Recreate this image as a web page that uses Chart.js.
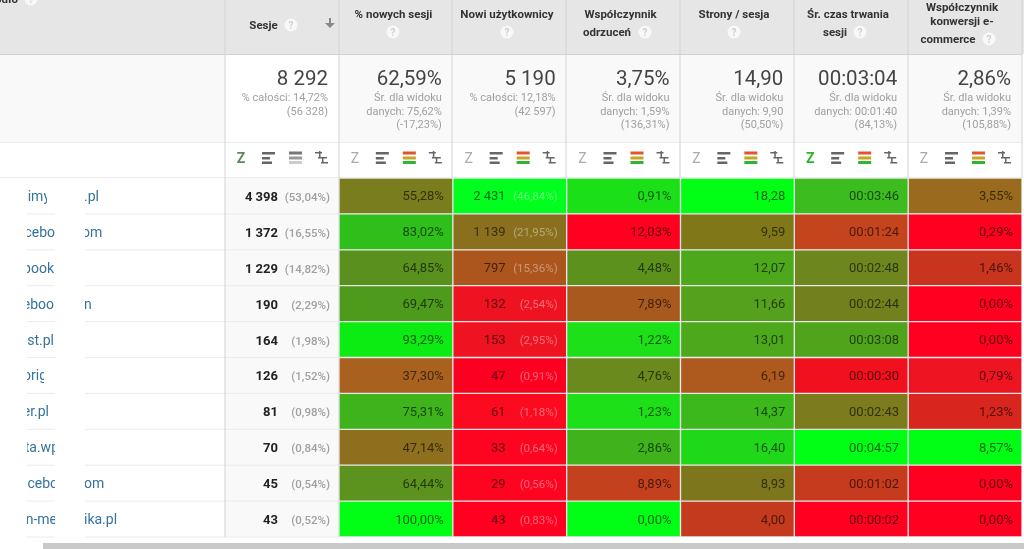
<!DOCTYPE html>
<html>
<head>
<meta charset="utf-8">
<style>
  html, body { margin: 0; padding: 0; background: #fff; overflow: hidden; }
  canvas { display: block; }
</style>
</head>
<body>
<canvas id="myChart" width="1024" height="549"></canvas>
<script src="https://cdn.jsdelivr.net/npm/chart.js@4/dist/chart.umd.min.js"></script>
<script>
// source names are partly hidden in the screenshot, only the visible bits are kept
const sourcesLeft = ["aimy", "cebo", "book", "eboo", "st.pl", "orig", "er.pl", "ta.wp", "acebo", "n-me"];
const sourcesRight = [".pl", "om", "", "n", "", "", "", "", "om", "ika.pl"];

const sessions = [4398, 1372, 1229, 190, 164, 126, 81, 70, 45, 43];
const sessionsShare = [53.04, 16.55, 14.82, 2.29, 1.98, 1.52, 0.98, 0.84, 0.54, 0.52];
const newSessionsPct = [55.28, 83.02, 64.85, 69.47, 93.29, 37.30, 75.31, 47.14, 64.44, 100.00];
const newUsers = [2431, 1139, 797, 132, 153, 47, 61, 33, 29, 43];
const newUsersShare = [46.84, 21.95, 15.36, 2.54, 2.95, 0.91, 1.18, 0.64, 0.56, 0.83];
const bounceRate = [0.91, 12.03, 4.48, 7.89, 1.22, 4.76, 1.23, 2.86, 8.89, 0.00];
const pagesPerSession = [18.28, 9.59, 12.07, 11.66, 13.01, 6.19, 14.37, 16.40, 8.93, 4.00];
const avgDuration = ["00:03:46", "00:01:24", "00:02:48", "00:02:44", "00:03:08", "00:00:30", "00:02:43", "00:04:57", "00:01:02", "00:00:02"];
const conversionRate = [3.55, 0.29, 1.46, 0.00, 0.00, 0.79, 1.23, 8.57, 0.00, 0.00];

const totalsBig = ["8 292", "62,59%", "5 190", "3,75%", "14,90", "00:03:04", "2,86%"];
const totalsSub = [
  ["% całości: 14,72%", "(56 328)"],
  ["Śr. dla widoku", "danych: 75,62%", "(-17,23%)"],
  ["% całości: 12,18%", "(42 597)"],
  ["Śr. dla widoku", "danych: 1,59%", "(136,31%)"],
  ["Śr. dla widoku", "danych: 9,90", "(50,50%)"],
  ["Śr. dla widoku", "danych: 00:01:40", "(84,13%)"],
  ["Śr. dla widoku", "danych: 1,39%", "(105,88%)"]
];

// heat colours, one list per column
const newSessionsColors = ["#7a7d1e", "#2fbf1a", "#5a911e", "#4d9a1c", "#0cec12", "#a8611e", "#3eb31c", "#8e6f1e", "#5c931e", "#00ff14"];
const newUsersColors = ["#00ff1e", "#8a701e", "#ac561e", "#ef1322", "#ef1322", "#fb0020", "#fb0a20", "#fd0420", "#fd0420", "#ff0020"];
const bounceColors = ["#1be018", "#ff0020", "#5c911c", "#a8591e", "#1ee018", "#6a8a1e", "#1ee018", "#40b31c", "#c4411e", "#00ff14"];
const pagesColors = ["#00ff14", "#807818", "#4da81c", "#55a01c", "#4ea81c", "#ae5a1e", "#3cb81c", "#20d81a", "#7e761c", "#c43a1e"];
const durationColors = ["#3cbc1e", "#c4441e", "#6e861e", "#72801e", "#4fa41c", "#f0101e", "#7c7c1e", "#00ff14", "#c63a1e", "#ff0020"];
const conversionColors = ["#9a6a1e", "#ff0020", "#c8341e", "#ff0020", "#ff0020", "#ee1422", "#d8261e", "#00ff14", "#ff0020", "#ff0020"];

const comma = (v, d) => v.toFixed(d).replace(".", ",");
const spaced = v => String(v).replace(/\B(?=(\d{3})+$)/g, " ");

const FONT = "Roboto, sans-serif";

function text(ctx, s, x, y, font, color, align) {
  ctx.font = font + " " + FONT;
  ctx.fillStyle = color;
  ctx.textAlign = align || "right";
  ctx.textBaseline = "alphabetic";
  ctx.fillText(s, x, y);
}

function help(ctx, x, y) {
  ctx.beginPath();
  ctx.arc(x, y, 6.5, 0, Math.PI * 2);
  ctx.fillStyle = "#f8f8f8";
  ctx.fill();
  text(ctx, "?", x, y + 3.5, "bold 10px", "#cfcfcf", "center");
}

function toolIcons(ctx, right, zColor, zFont, heat) {
  text(ctx, "Z", right - 98, 163, zFont, zColor, "center");
  const grey = "#666";
  ctx.fillStyle = grey;
  ctx.fillRect(right - 77, 152, 13, 2.5);
  ctx.fillRect(right - 77, 157, 8, 2.5);
  ctx.fillRect(right - 77, 161.5, 10, 2.5);
  const c = heat ? ["#e0552a", "#c9a227", "#2fb52f"] : ["#777", "#999", "#ccc"];
  [151.5, 156.5, 161].forEach((y, i) => {
    ctx.fillStyle = c[i];
    ctx.fillRect(right - 50, y, 13, 3);
  });
  ctx.fillStyle = grey;
  ctx.fillRect(right - 24, 152, 7, 1.5);
  ctx.fillRect(right - 21, 157, 9, 1.5);
  ctx.fillRect(right - 18, 162, 7, 1.5);
  ctx.fillRect(right - 20, 151, 1.5, 7);
  ctx.fillRect(right - 17, 157, 1.5, 6);
}

function sortArrow(ctx, x, y) {
  ctx.fillStyle = "#888";
  ctx.fillRect(x - 1, y - 5, 2, 9);
  ctx.beginPath();
  ctx.moveTo(x - 5, y);
  ctx.lineTo(x + 5, y);
  ctx.lineTo(x, y + 5);
  ctx.closePath();
  ctx.fill();
}

// everything around the heat cells: header, totals row, left columns
const tablePlugin = {
  id: "tablePlugin",
  beforeDraw(chart) {
    const ctx = chart.ctx;
    const x = chart.scales.x, y = chart.scales.y;
    const left = x.getPixelForValue(0);
    const sesLeft = left - 114;
    const rowH = y.getPixelForValue(1) - y.getPixelForValue(0);
    const top = y.getPixelForValue(0) - rowH / 2;

    ctx.save();
    ctx.fillStyle = "#fff";
    ctx.fillRect(0, 0, 1024, 549);
    ctx.fillStyle = "#e6e6e6";
    ctx.fillRect(0, 0, 1024, 54);
    ctx.fillStyle = "#f9f9f9";
    ctx.fillRect(0, 54, 1024, 88);
    ctx.fillRect(sesLeft, top, 114, rowH * 10);
    ctx.fillStyle = "#fff";
    ctx.fillRect(sesLeft, 55, 114, 87);
    ctx.fillRect(1022, 54, 2, 495);

    // horizontal rules
    ctx.fillStyle = "#d2d2d2";
    ctx.fillRect(0, 54, 1022, 1);
    ctx.fillStyle = "#ececec";
    ctx.fillRect(0, 142, 1022, 1);
    ctx.fillRect(0, 177, 1022, 1);
    for (let i = 1; i <= 10; i++) {
      const ly = top + rowH * i - 0.5;
      ctx.fillRect(27, ly, 28, 1);
      ctx.fillRect(85, ly, 254, 1);
    }

    // vertical rules
    ctx.fillStyle = "#d4d4d4";
    [225, 339, 452, 566, 680, 794, 908, 1022].forEach(v => {
      ctx.fillRect(v - 0.5, 0, 1, v < 340 ? top + rowH * 10 : 178);
    });

    // header
    const h = "bold 11.5px";
    const hc = "#333";
    text(ctx, "Źródło", 18, 3, h, hc);
    help(ctx, 31, -1);
    text(ctx, "Sesje", 263.5, 29, h, hc, "center");
    help(ctx, 291, 25);
    sortArrow(ctx, 330, 23);
    text(ctx, "% nowych sesji", 393.5, 18, h, hc, "center");
    help(ctx, 393, 32);
    text(ctx, "Nowi użytkownicy", 507, 18, h, hc, "center");
    help(ctx, 507, 32);
    text(ctx, "Współczynnik", 620.5, 18, h, hc, "center");
    text(ctx, "odrzuceń", 607, 36, h, hc, "center");
    help(ctx, 645, 32);
    text(ctx, "Strony / sesja", 734, 18, h, hc, "center");
    help(ctx, 734, 32);
    text(ctx, "Śr. czas trwania", 848, 18, h, hc, "center");
    text(ctx, "sesji", 835, 36, h, hc, "center");
    help(ctx, 860, 32);
    text(ctx, "Współczynnik", 962, 11, h, hc, "center");
    text(ctx, "konwersji e-", 962, 25, h, hc, "center");
    text(ctx, "commerce", 948, 43, h, hc, "center");
    help(ctx, 989, 39);

    // totals and icon row
    totalsBig.forEach((s, i) => {
      const right = x.getPixelForValue(i) - 11;
      text(ctx, s, right, 85, "20.5px", "#444");
      totalsSub[i].forEach((line, j) => {
        text(ctx, line, right, 101 + j * 13.5, "11px", "#a0a0a0");
      });
      const colRight = x.getPixelForValue(i);
      const zColor = i === 5 ? "#2bb52b" : i === 0 ? "#5a8a5a" : "#aaa";
      toolIcons(ctx, colRight, zColor, i === 5 || i === 0 ? "bold 14px" : "14px", i > 0);
    });

    // source links, cut by the masked part of the screenshot
    const link = "14px";
    const linkColor = "#35739f";
    const textEnds = [50, 55, 54, 54, 54, 47, 49, 59, 58, 57];
    const clipEnds = [47, 55, 55, 55, 55, 44, 55, 55, 55, 55];
    const rightStart = [84, 82, 0, 84, 0, 0, 0, 0, 84, 84];
    sessions.forEach((v, i) => {
      const cy = y.getPixelForValue(i) + 5;
      ctx.save();
      ctx.beginPath();
      ctx.rect(27, cy - 20, clipEnds[i] - 27, 30);
      ctx.clip();
      text(ctx, sourcesLeft[i], textEnds[i], cy, link, linkColor);
      ctx.restore();
      if (sourcesRight[i]) {
        ctx.save();
        ctx.beginPath();
        ctx.rect(85, cy - 20, 60, 30);
        ctx.clip();
        text(ctx, sourcesRight[i], rightStart[i], cy, link, linkColor, "left");
        ctx.restore();
      }
      text(ctx, spaced(v), 278, cy, "bold 13px", "#222");
      text(ctx, "(" + comma(sessionsShare[i], 2) + "%)", 330, cy, "500 11.5px", "#a0a0a0");
    });
    ctx.restore();
  },
  afterDatasetsDraw(chart) {
    const ctx = chart.ctx;
    const x = chart.scales.x, y = chart.scales.y;
    const dark = "rgba(0,0,0,0.62)";
    const f = "13px";
    ctx.save();
    sessions.forEach((v, i) => {
      const cy = y.getPixelForValue(i) + 4.5;
      text(ctx, comma(newSessionsPct[i], 2) + "%", x.getPixelForValue(1) - 9, cy, f, dark);
      text(ctx, spaced(newUsers[i]), x.getPixelForValue(2) - 61, cy, f, dark);
      text(ctx, "(" + comma(newUsersShare[i], 2) + "%)", x.getPixelForValue(2) - 9, cy, "11.5px", "rgba(255,255,255,0.38)");
      text(ctx, comma(bounceRate[i], 2) + "%", x.getPixelForValue(3) - 9, cy, f, dark);
      text(ctx, comma(pagesPerSession[i], 2), x.getPixelForValue(4) - 9, cy, f, dark);
      text(ctx, avgDuration[i], x.getPixelForValue(5) - 9, cy, f, dark);
      text(ctx, comma(conversionRate[i], 2) + "%", x.getPixelForValue(6) - 9, cy, f, dark);
    });
    ctx.restore();
  },
  afterDraw(chart) {
    const ctx = chart.ctx;
    ctx.save();
    ctx.fillStyle = "#c9c9c9"; // scrollbar
    ctx.fillRect(43, 543, 981, 6);
    ctx.restore();
  }
};

const columns = [
  ["% nowych sesji", newSessionsColors],
  ["Nowi użytkownicy", newUsersColors],
  ["Współczynnik odrzuceń", bounceColors],
  ["Strony / sesja", pagesColors],
  ["Śr. czas trwania sesji", durationColors],
  ["Współczynnik konwersji e-commerce", conversionColors]
];

new Chart("myChart", {
  type: "bar",
  data: {
    labels: sourcesLeft,
    datasets: columns.map(col => ({
      label: col[0],
      data: sessions.map(() => 1), // every cell is one column wide
      backgroundColor: col[1],
      borderColor: "#e8e8e8",
      borderWidth: 1,
      borderSkipped: false,
      barPercentage: 1,
      categoryPercentage: 1
    }))
  },
  options: {
    indexAxis: "y",
    responsive: false,
    animation: false,
    layout: { padding: { left: 339, top: 178, right: 2, bottom: 12 } },
    plugins: { legend: { display: false }, tooltip: { enabled: false } },
    scales: {
      x: { stacked: true, min: 0, max: 6, display: false },
      y: { stacked: true, display: false }
    }
  },
  plugins: [tablePlugin]
});
</script>
</body>
</html>
